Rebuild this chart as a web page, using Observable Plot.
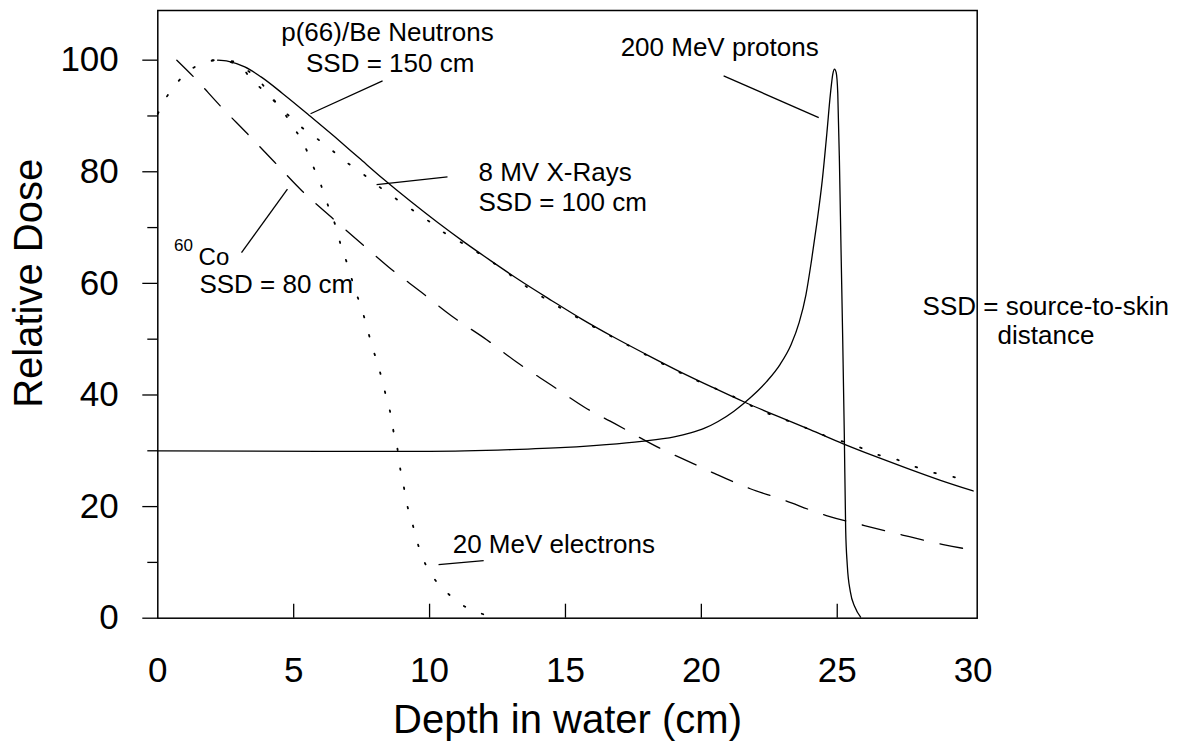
<!DOCTYPE html>
<html>
<head>
<meta charset="utf-8">
<script src="https://cdn.jsdelivr.net/npm/d3@7"></script>
<script src="https://cdn.jsdelivr.net/npm/@observablehq/plot@0.6"></script>
<style>
  html, body { margin: 0; padding: 0; background: #fff; }
  #chart svg { display: block; }
</style>
</head>
<body>
<div id="chart"></div>
<script>
// ---- Data ----
const neutronDepth = [2.2, 2.6, 3.2, 3.8, 4.6, 5.6, 6.5, 7.4, 8.3, 9.3, 10.3, 11.3, 12.3, 13.3, 14.5, 15.6, 16.8, 18.0, 19.2, 20.4, 21.6, 22.8, 24.0, 25.2, 26.4, 27.6, 28.8, 30.0];
const neutronDose  = [100, 99.8, 98.8, 97.0, 94.0, 90.0, 86.3, 82.5, 78.7, 74.7, 70.9, 67.3, 63.9, 60.6, 56.9, 53.6, 50.3, 47.2, 44.2, 41.4, 38.7, 36.2, 33.8, 31.3, 29.0, 26.8, 24.7, 22.8];

const xrayDepth = [2.0, 2.9, 3.4, 4.03, 4.64, 5.31, 5.87, 6.42, 7.03, 7.71, 8.26, 8.87, 10.04, 10.53, 11.14, 12.4, 13.6, 15.5, 17.5, 19.6, 21.1, 22.3, 23.0, 23.65, 24.33, 25.0, 25.74, 26.35, 27.09, 27.83, 28.69, 29.36, 29.91];
const xrayDose  = [100, 99.7, 96.8, 93.9, 90.9, 87.9, 85.9, 83.8, 81.4, 79.0, 76.9, 74.8, 70.9, 69.1, 67.4, 63.5, 59.3, 53.7, 48.4, 43.1, 39.9, 37.0, 35.7, 34.5, 33.1, 32.0, 30.8, 29.5, 28.6, 27.2, 25.9, 25.2, 24.4];

const cobaltDepth = [0.7, 1.3, 2.3, 3.3, 4.3, 5.3, 6.4, 7.5, 8.5, 9.7, 10.8, 12.1, 13.2, 14.5, 15.7, 16.8, 18.5, 19.7, 20.5, 21.8, 22.9, 24.6, 26.0, 27.4, 28.9, 30.0];
const cobaltDose  = [100, 97.1, 91.8, 86.8, 81.7, 76.6, 71.8, 67.1, 62.9, 58.4, 54.2, 49.9, 45.9, 41.7, 37.8, 34.9, 30.4, 27.7, 25.9, 23.2, 21.4, 18.4, 16.6, 14.9, 13.2, 12.2];

const electronDepth = [0, 0.35, 0.77, 1.57, 2.3, 3.0, 3.7, 4.3, 4.64, 5.0, 5.37, 5.68, 5.99, 6.29, 6.54, 6.72, 6.97, 7.21, 7.46, 7.67, 7.85, 8.07, 8.26, 8.42, 8.59, 8.66, 8.81, 8.91, 9.05, 9.18, 9.34, 9.51, 9.73, 10.04, 10.26, 10.75, 11.33, 11.98, 12.3];
const electronDose  = [90.4, 93.6, 96.3, 99.3, 100, 99.0, 96.5, 92.7, 90.6, 87.9, 85.0, 81.4, 77.8, 73.6, 70.3, 67.1, 63.5, 59.6, 56.0, 52.7, 49.3, 45.9, 42.6, 39.3, 36.0, 33.8, 30.6, 27.1, 23.6, 20.2, 17.5, 14.3, 11.0, 8.0, 6.5, 4.1, 2.0, 0.7, 0.2];

const protonDepth = [0, 6, 10, 13, 15, 16.5, 17.8, 19.0, 19.6, 20.1, 20.6, 21.2, 21.8, 22.4, 22.9, 23.3, 23.6, 23.85, 24.05, 24.25, 24.45, 24.62, 24.75, 24.84, 24.9, 24.96, 25.02, 25.08, 25.14, 25.2, 25.26, 25.31, 25.37, 25.48, 25.65, 25.86];
const protonDose  = [30.0, 29.9, 29.9, 30.2, 30.6, 31.1, 31.7, 32.5, 33.2, 34.0, 35.2, 37.1, 39.5, 42.4, 45.5, 49.0, 53.0, 58.0, 64.0, 70.8, 78.5, 87.0, 94.0, 97.6, 98.4, 97.8, 94.0, 82.0, 66.0, 50.4, 33.0, 16.0, 9.5, 4.8, 2.0, 0.2];

// tick values
const xTickLabels = [0, 5, 10, 15, 20, 25, 30];
const xTickMarks = [5, 10, 15, 20, 25];
const yMajorTicks = [0, 20, 40, 60, 80, 100];
const yMinorTicks = [10, 30, 50, 70, 90];

// annotations (data coordinates)
const startLabelText  = ["8 MV X-Rays", "SSD = 100 cm", "200 MeV protons", "SSD = 80 cm", "20 MeV electrons", "SSD = source-to-skin", "distance"];
const startLabelDepth = [11.8, 11.8, 17.03, 1.53, 10.85, 28.14, 30.9];
const startLabelDose  = [79.8, 74.4, 102.3, 59.8, 13.2, 55.8, 50.6];

const midLabelText  = ["p(66)/Be Neutrons", "SSD = 150 cm"];
const midLabelDepth = [8.45, 8.55];
const midLabelDose  = [105.0, 99.4];

const isoText  = ["Co"];
const isoDepth = [1.5];
const isoDose  = [64.6];

const supText  = ["60"];
const supDepth = [0.6];
const supDose  = [66.8];

const leaderX1 = [8.27, 10.66, 20.82, 3.08, 10.33];
const leaderY1 = [96.3, 79.1, 97.2, 65.5, 9.6];
const leaderX2 = [5.62, 8.05, 24.32, 4.77, 11.99];
const leaderY2 = [90.4, 77.7, 89.7, 76.9, 10.3];

// ---- Build tables ----
const toRows = (xs, ys) => xs.map((x, i) => ({depth: x, dose: ys[i]}));
const neutrons = toRows(neutronDepth, neutronDose);
const xrays = toRows(xrayDepth, xrayDose);
const cobalt = toRows(cobaltDepth, cobaltDose);
const electrons = toRows(electronDepth, electronDose);
const protons = toRows(protonDepth, protonDose);
const toLabels = (ts, xs, ys) => ts.map((t, i) => ({t, x: xs[i], y: ys[i]}));
const startLabels = toLabels(startLabelText, startLabelDepth, startLabelDose);
const midLabels = toLabels(midLabelText, midLabelDepth, midLabelDose);
const isoLabels = toLabels(isoText, isoDepth, isoDose);
const supLabels = toLabels(supText, supDepth, supDose);
const leaders = leaderX1.map((x1, i) => ({x1, y1: leaderY1[i], x2: leaderX2[i], y2: leaderY2[i]}));

const FONT = "'Liberation Sans', Arial, Helvetica, sans-serif";

const chart = Plot.plot({
  width: 1184,
  height: 743,
  marginLeft: 157.3,
  marginRight: 207.3,
  marginTop: 10,
  marginBottom: 125.3,
  x: {domain: [0, 30.15]},
  y: {domain: [0, 108.9]},
  style: {fontFamily: FONT, color: "black", background: "white", overflow: "visible"},
  marks: [
    Plot.frame({stroke: "black", strokeWidth: 1.5}),
    Plot.axisY({ticks: yMajorTicks, tickSize: 15, tickPadding: 24, fontSize: 35, label: null, strokeWidth: 1.3}),
    Plot.axisY({ticks: yMinorTicks, tickSize: 10, tickFormat: () => "", label: null, strokeWidth: 1.3}),
    Plot.axisX({ticks: xTickMarks, tickSize: -14, tickFormat: () => "", label: null, strokeWidth: 1.3}),
    Plot.axisX({ticks: xTickLabels, tickSize: 0, tickPadding: 39, fontSize: 35, label: null}),
    Plot.text(["Depth in water (cm)"], {frameAnchor: "bottom", dy: 115, lineAnchor: "bottom", textAnchor: "middle", fontSize: 40}),
    Plot.text(["Relative Dose"], {frameAnchor: "left", dx: -129, dy: -31, rotate: -90, textAnchor: "middle", fontSize: 40}),
    Plot.line(cobalt, {x: "depth", y: "dose", stroke: "black", strokeWidth: 1.3, strokeDasharray: "23,17", curve: "monotone-x"}),
    Plot.line(electrons, {x: "depth", y: "dose", stroke: "black", strokeWidth: 1.8, strokeDasharray: "1.6,18", curve: "monotone-x"}),
    Plot.line(xrays, {x: "depth", y: "dose", stroke: "black", strokeWidth: 1.8, strokeDasharray: "1.6,18", curve: "monotone-x"}),
    Plot.line(neutrons, {x: "depth", y: "dose", stroke: "black", strokeWidth: 1.3, curve: "monotone-x"}),
    Plot.line(protons, {x: "depth", y: "dose", stroke: "black", strokeWidth: 1.3, curve: "monotone-x"}),
    Plot.link(leaders, {x1: "x1", y1: "y1", x2: "x2", y2: "y2", stroke: "black", strokeWidth: 1.3}),
    Plot.text(startLabels, {x: "x", y: "y", text: "t", textAnchor: "start", fontSize: 26, fill: "black"}),
    Plot.text(midLabels, {x: "x", y: "y", text: "t", textAnchor: "middle", fontSize: 26, fill: "black"}),
    Plot.text(isoLabels, {x: "x", y: "y", text: "t", textAnchor: "start", fontSize: 24, fill: "black"}),
    Plot.text(supLabels, {x: "x", y: "y", text: "t", textAnchor: "start", fontSize: 17, fill: "black"})
  ]
});
document.getElementById("chart").appendChild(chart);
</script>
</body>
</html>
